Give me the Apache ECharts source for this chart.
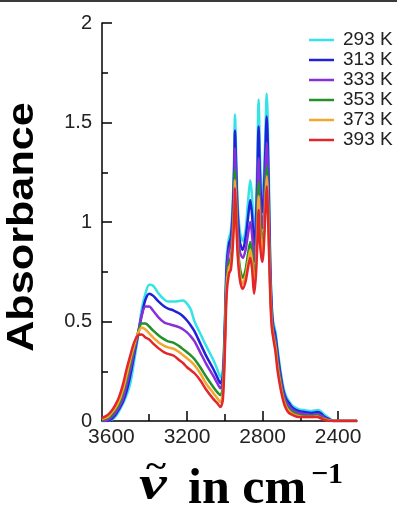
<!DOCTYPE html>
<html><head><meta charset="utf-8">
<script src="https://cdn.jsdelivr.net/npm/echarts@6/dist/echarts.min.js"></script>
<style>html,body{margin:0;padding:0;background:#fff}#c{width:397px;height:512px}</style>
</head><body><div id="c"></div>
<script>
const wavenumbers = [3650,3620,3600,3580,3560,3540,3520,3500,3480,3460,3440,3420,3400,3380,3350,3320,3300,3270,3240,3220,3200,3180,3160,3130,3100,3060,3040,3023,
  3010,3000,2990,2978,2968,2958,2950,2946,2940,2932,2920,2905,2890,2877,2865,2855,2845,2836,2828,2821,2814,2806,2800,2792,2785,2778,
  2768,2760,2752,2744,2732,2720,2706,2690,2675,2660,2640,2610,2580,2540,2510,2494,2470,2445,2425,2300];
const seriesNames = ['293 K','313 K','333 K','353 K','373 K','393 K'];
const a293 = [0,0,0.005,0.02,0.05,0.085,0.13,0.19,0.3,0.42,0.56,0.64,0.685,0.68,0.64,0.61,0.60,0.60,0.603,0.605,0.59,0.56,0.5,0.44,0.38,0.305,0.26,0.22,
  0.26,0.5,0.82,0.92,0.95,1.1,1.35,1.54,1.35,1.1,0.95,0.905,0.96,1.1,1.21,1.12,0.93,1.05,1.3,1.615,1.35,1.15,1.12,1.25,1.45,1.645,
  1.3,0.85,0.6,0.5,0.45,0.36,0.26,0.17,0.125,0.1,0.075,0.06,0.055,0.05,0.055,0.05,0.03,0.012,0,0];
const a313 = [0,0,0.01,0.03,0.06,0.095,0.15,0.23,0.33,0.43,0.53,0.61,0.64,0.63,0.60,0.575,0.565,0.555,0.54,0.525,0.505,0.48,0.45,0.39,0.33,0.26,0.22,0.19,
  0.23,0.46,0.78,0.89,0.92,1.05,1.28,1.46,1.28,1.05,0.9,0.86,0.92,1.02,1.11,1.03,0.88,0.98,1.2,1.48,1.25,1.08,1.05,1.17,1.36,1.53,
  1.2,0.8,0.58,0.48,0.43,0.34,0.24,0.155,0.11,0.09,0.065,0.05,0.045,0.04,0.045,0.04,0.02,0.008,0,0];
const a333 = [0,0.005,0.02,0.04,0.07,0.11,0.18,0.26,0.35,0.44,0.53,0.575,0.575,0.555,0.52,0.495,0.488,0.48,0.47,0.46,0.445,0.425,0.40,0.345,0.29,0.225,0.19,0.165,
  0.2,0.43,0.74,0.86,0.88,1.0,1.2,1.37,1.2,0.98,0.85,0.82,0.86,0.94,1.0,0.93,0.80,0.9,1.1,1.32,1.13,1.0,0.97,1.08,1.25,1.40,
  1.1,0.75,0.55,0.46,0.41,0.31,0.22,0.14,0.095,0.075,0.055,0.04,0.035,0.03,0.035,0.03,0.015,0.005,0,0];
const a353 = [0.005,0.015,0.03,0.055,0.085,0.14,0.21,0.29,0.37,0.44,0.49,0.49,0.475,0.455,0.43,0.41,0.40,0.393,0.375,0.36,0.345,0.33,0.31,0.27,0.225,0.17,0.145,0.13,
  0.17,0.4,0.7,0.80,0.82,0.94,1.12,1.26,1.12,0.9,0.77,0.72,0.76,0.84,0.9,0.84,0.71,0.8,1.0,1.2,1.03,0.92,0.9,0.99,1.14,1.28,
  1.0,0.7,0.52,0.44,0.39,0.29,0.2,0.12,0.08,0.06,0.045,0.03,0.025,0.025,0.028,0.02,0.01,0.003,0,0];
const a373 = [0.01,0.02,0.04,0.065,0.1,0.155,0.23,0.31,0.38,0.44,0.47,0.46,0.44,0.42,0.395,0.378,0.37,0.363,0.345,0.33,0.315,0.3,0.28,0.24,0.19,0.14,0.115,0.095,
  0.14,0.37,0.68,0.77,0.79,0.9,1.07,1.21,1.07,0.87,0.74,0.69,0.73,0.8,0.86,0.8,0.67,0.76,0.94,1.13,0.97,0.87,0.85,0.95,1.1,1.23,
  0.97,0.68,0.5,0.43,0.37,0.27,0.185,0.11,0.07,0.05,0.035,0.025,0.02,0.02,0.022,0.015,0.008,0.002,0,0];
const a393 = [0.015,0.03,0.05,0.08,0.12,0.18,0.26,0.33,0.395,0.43,0.435,0.42,0.41,0.39,0.365,0.345,0.337,0.328,0.305,0.29,0.27,0.255,0.24,0.205,0.16,0.11,0.09,0.07,
  0.11,0.34,0.64,0.74,0.76,0.87,1.03,1.17,1.03,0.84,0.71,0.665,0.7,0.77,0.82,0.76,0.64,0.72,0.88,1.06,0.9,0.82,0.80,0.9,1.05,1.18,
  0.93,0.65,0.48,0.42,0.35,0.25,0.17,0.1,0.06,0.04,0.03,0.02,0.02,0.02,0.02,0.015,0.005,0,0,0];
const xMajorTicks = [3600,3200,2800,2400];
const xMinorTicks = [3400,3000,2600];
const colors = ['#33e3e6','#1f22d8','#8a2ed8','#23902a','#f2a82e','#e3262a'];

const allValues = [a293,a313,a333,a353,a373,a393];
const chart = echarts.init(document.getElementById('c'), null, {renderer:'canvas'});
const axisBase = {type:'value', inverse:true, min:2300, max:3650, position:'bottom', splitLine:{show:false}};
chart.setOption({
  animation:false,
  backgroundColor:'#fff',
  grid:{left:102, right:40, top:23, bottom:91},
  legend:{orient:'vertical', left:304, top:25, icon:'rect', itemWidth:25, itemHeight:2.5, itemGap:0,
    textStyle:{fontFamily:'Liberation Sans', fontSize:19, color:'#222', lineHeight:20, padding:[0,0,0,4]},
    data:seriesNames},
  xAxis:[
    Object.assign({}, axisBase, {
      axisLine:{lineStyle:{color:'#000', width:1.5}},
      axisTick:{inside:true, length:10, lineStyle:{color:'#000', width:1.5}, customValues:xMajorTicks},
      axisLabel:{customValues:xMajorTicks, formatter:v=>String(v), fontFamily:'Liberation Sans', fontSize:21, color:'#222', margin:6}
    }),
    Object.assign({}, axisBase, {
      axisLine:{show:false},
      axisTick:{inside:true, length:7, lineStyle:{color:'#000', width:1.5}, customValues:xMinorTicks},
      axisLabel:{show:false}
    })
  ],
  yAxis:{type:'value', min:0, max:2, interval:0.5, splitLine:{show:false},
    axisLine:{show:true, lineStyle:{color:'#000', width:1.5}},
    axisTick:{show:true, inside:true, length:10, lineStyle:{color:'#000', width:1.5}},
    minorTick:{show:true, splitNumber:2, length:6, lineStyle:{color:'#000', width:1.5}},
    axisLabel:{fontFamily:'Liberation Sans', fontSize:20, color:'#222', margin:10, padding:[0,0,6,0]}
  },
  graphic:[
    {type:'rect', left:0, top:0, shape:{width:397, height:2}, style:{fill:'#3a3a3a'}},
    {type:'text', x:23, y:227, rotation:Math.PI/2, scaleX:1.2,
      style:{text:'Absorbance', font:'bold 36px "Liberation Sans"', fill:'#000', align:'center', verticalAlign:'middle'}},
    {type:'text', x:139, y:487, scaleX:1.3,
      style:{text:'\u03BD', font:'italic bold 48px "Liberation Serif"', fill:'#000', align:'left', verticalAlign:'middle'}},
    {type:'text', x:146, y:468, scaleX:1.2,
      style:{text:'~', font:'bold 32px "Liberation Serif"', fill:'#000', align:'left', verticalAlign:'middle'}},
    {type:'text', x:188, y:490,
      style:{text:'in cm', font:'bold 50px "Liberation Serif"', fill:'#000', align:'left', verticalAlign:'middle'}},
    {type:'text', x:311, y:475,
      style:{text:'\u22121', font:'bold 30px "Liberation Serif"', fill:'#000', align:'left', verticalAlign:'middle'}}
  ],
  series: seriesNames.map((n,i)=>({
    name:n, type:'line', xAxisIndex:0, showSymbol:false, smooth:0.3,
    lineStyle:{width:2.5, color:colors[i]}, itemStyle:{color:colors[i]},
    data: wavenumbers.map((w,k)=>[w, allValues[i][k]])
  }))
});
</script></body></html>
